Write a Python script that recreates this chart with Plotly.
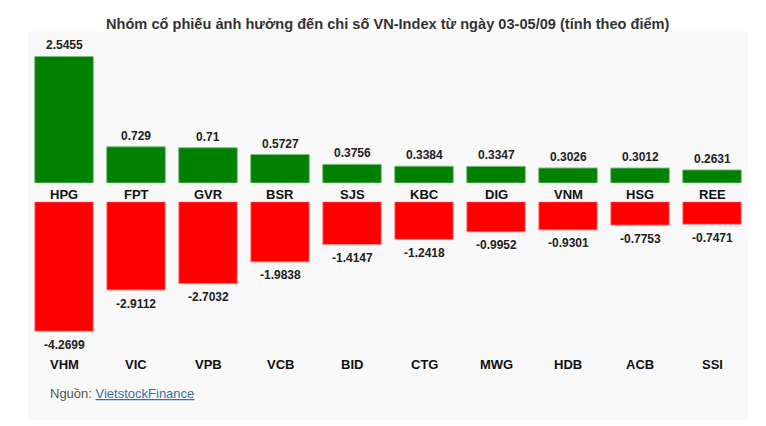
import plotly.graph_objects as go

# ---- data ----
gain_tickers = ["HPG", "FPT", "GVR", "BSR", "SJS", "KBC", "DIG", "VNM", "HSG", "REE"]
gain_values = [2.5455, 0.729, 0.71, 0.5727, 0.3756, 0.3384, 0.3347, 0.3026, 0.3012, 0.2631]
loss_tickers = ["VHM", "VIC", "VPB", "VCB", "BID", "CTG", "MWG", "HDB", "ACB", "SSI"]
loss_values = [-4.2699, -2.9112, -2.7032, -1.9838, -1.4147, -1.2418, -0.9952, -0.9301, -0.7753, -0.7471]
gain_labels = ["2.5455", "0.729", "0.71", "0.5727", "0.3756", "0.3384", "0.3347", "0.3026", "0.3012", "0.2631"]
loss_labels = ["-4.2699", "-2.9112", "-2.7032", "-1.9838", "-1.4147", "-1.2418", "-0.9952", "-0.9301", "-0.7753", "-0.7471"]
title_text = "Nhóm cổ phiếu ảnh hưởng đến chỉ số VN-Index từ ngày 03-05/09 (tính theo điểm)"

# ---- layout geometry (pixels) ----
W, H = 766, 426
PX0, PX1 = 28, 748
TOP_BASE, TOP_SCALE, TOP_LIM = 183.0, 49.7, 30.0
BOT_BASE, BOT_SCALE, BOT_LIM = 201.7, 30.35, 345.0

def fy(py):
    return (H - py) / H

idx = list(range(len(gain_tickers)))

fig = go.Figure()
fig.add_trace(go.Bar(
    x=idx, y=gain_values, xaxis="x", yaxis="y",
    marker=dict(color="#008000", line=dict(color="#7fc07f", width=1)),
    hoverinfo="skip", showlegend=False,
))
fig.add_trace(go.Bar(
    x=idx, y=loss_values, xaxis="x2", yaxis="y2",
    marker=dict(color="#ff0000", line=dict(color="#ff9a9a", width=1)),
    hoverinfo="skip", showlegend=False,
))

ann = []
lab_font = dict(family="Arial, Liberation Sans, sans-serif", size=12, color="#222222")
cat_font = dict(family="Arial, Liberation Sans, sans-serif", size=13, color="#111111")
for i in idx:
    ann.append(dict(x=i, y=gain_values[i], xref="x", yref="y", text="<b>%s</b>" % gain_labels[i],
                    showarrow=False, yanchor="middle", yshift=11, font=lab_font))
    ann.append(dict(x=i, y=loss_values[i], xref="x2", yref="y2", text="<b>%s</b>" % loss_labels[i],
                    showarrow=False, yanchor="middle", yshift=-13.5, font=lab_font))
    ann.append(dict(x=i, y=0, xref="x2", yref="y2", text="<b>%s</b>" % gain_tickers[i],
                    showarrow=False, yanchor="middle", yshift=7, font=cat_font))
    ann.append(dict(x=i, y=fy(364), xref="x2", yref="paper", text="<b>%s</b>" % loss_tickers[i],
                    showarrow=False, yanchor="middle", font=cat_font))

ann.append(dict(x=388 / W, y=fy(24), xref="paper", yref="paper",
                text="<b>%s</b>" % title_text, showarrow=False, xanchor="center", yanchor="middle",
                font=dict(family="Liberation Sans Narrow, Arial Narrow, Liberation Sans, sans-serif", size=14.6, color="#333333")))
ann.append(dict(x=48 / W, y=fy(393), xref="paper", yref="paper",
                text="Nguồn: <span style='color:#3b6fa3;text-decoration:underline'>VietstockFinance</span>",
                showarrow=False, xanchor="left", yanchor="middle",
                font=dict(family="Arial, Liberation Sans, sans-serif", size=13, color="#555555")))

axis_common = dict(showgrid=False, zeroline=False, showticklabels=False, ticks="", showline=False, fixedrange=True)

fig.update_layout(
    width=W, height=H,
    margin=dict(l=0, r=0, t=0, b=0),
    paper_bgcolor="white", plot_bgcolor="rgba(0,0,0,0)",
    bargap=0.186,
    xaxis=dict(domain=[PX0 / W, PX1 / W], range=[-0.5, len(idx) - 0.5], anchor="y", **axis_common),
    xaxis2=dict(domain=[PX0 / W, PX1 / W], range=[-0.5, len(idx) - 0.5], anchor="y2", **axis_common),
    yaxis=dict(domain=[fy(TOP_BASE), fy(TOP_LIM)], range=[0, (TOP_BASE - TOP_LIM) / TOP_SCALE], anchor="x", **axis_common),
    yaxis2=dict(domain=[fy(BOT_LIM), fy(BOT_BASE)], range=[-(BOT_LIM - BOT_BASE) / BOT_SCALE, 0], anchor="x2", **axis_common),
    shapes=[dict(type="rect", xref="paper", yref="paper", x0=PX0 / W, x1=PX1 / W, y0=fy(420), y1=fy(31),
                 fillcolor="#f9f9f9", line=dict(width=0), layer="below")],
    annotations=ann,
)

fig.write_html("out.html")
